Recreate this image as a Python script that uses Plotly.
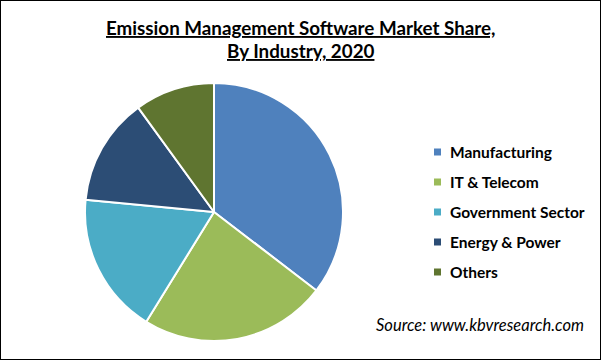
import plotly.graph_objects as go

labels = ["Manufacturing", "IT & Telecom", "Government Sector", "Energy & Power", "Others"]
values = [35.4, 23.4, 17.7, 13.5, 10.0]
colors = ["#4F81BD", "#9BBB59", "#4BACC6", "#2C4D75", "#5F7530"]

W, H = 601, 360
cx, cy, r = 214, 212, 129

fig = go.Figure(go.Pie(
    labels=labels, values=values, sort=False, direction="clockwise", rotation=0,
    marker=dict(colors=colors, line=dict(color="white", width=2)),
    textinfo="none", hoverinfo="label+percent", showlegend=False,
    domain=dict(x=[(cx - r) / W, (cx + r) / W], y=[(H - cy - r) / H, (H - cy + r) / H]),
))

font = "Lato, Open Sans, sans-serif"
annotations = [
    dict(text="<b><u>Emission Management Software Market Share,</u></b>", x=300.5 / W, y=1 - 28 / H,
         xref="paper", yref="paper", showarrow=False, font=dict(family=font, size=18.8, color="black"),
         xanchor="center", yanchor="middle"),
    dict(text="<b><u>By Industry, 2020</u></b>", x=300.5 / W, y=1 - 50.5 / H,
         xref="paper", yref="paper", showarrow=False, font=dict(family=font, size=18.8, color="black"),
         xanchor="center", yanchor="middle"),
    dict(text="<i>Source: www.kbvresearch.com</i>", x=586 / W, y=1 - 325 / H,
         xref="paper", yref="paper", showarrow=False, font=dict(family=font, size=16.5, color="black"),
         xanchor="right", yanchor="middle"),
]
shapes = [dict(type="rect", xref="paper", yref="paper", x0=0, x1=1, y0=0, y1=1,
               line=dict(color="black", width=2))]
for i, (lab, col) in enumerate(zip(labels, colors)):
    yy = 152 + 30 * i
    shapes.append(dict(type="rect", xref="paper", yref="paper",
                       x0=434 / W, x1=441 / W, y0=1 - (yy + 3.5) / H, y1=1 - (yy - 3.5) / H,
                       fillcolor=col, line=dict(width=0)))
    annotations.append(dict(text="<b>" + lab + "</b>", x=448 / W, y=1 - yy / H,
                            xref="paper", yref="paper", showarrow=False,
                            font=dict(family=font, size=15.5, color="black"),
                            xanchor="left", yanchor="middle"))

fig.update_layout(width=W, height=H, margin=dict(l=0, r=0, t=0, b=0),
                  paper_bgcolor="white", plot_bgcolor="white",
                  annotations=annotations, shapes=shapes)
fig.write_html("out.html", config={"displayModeBar": False},
               post_script="document.body.style.margin='0';")
